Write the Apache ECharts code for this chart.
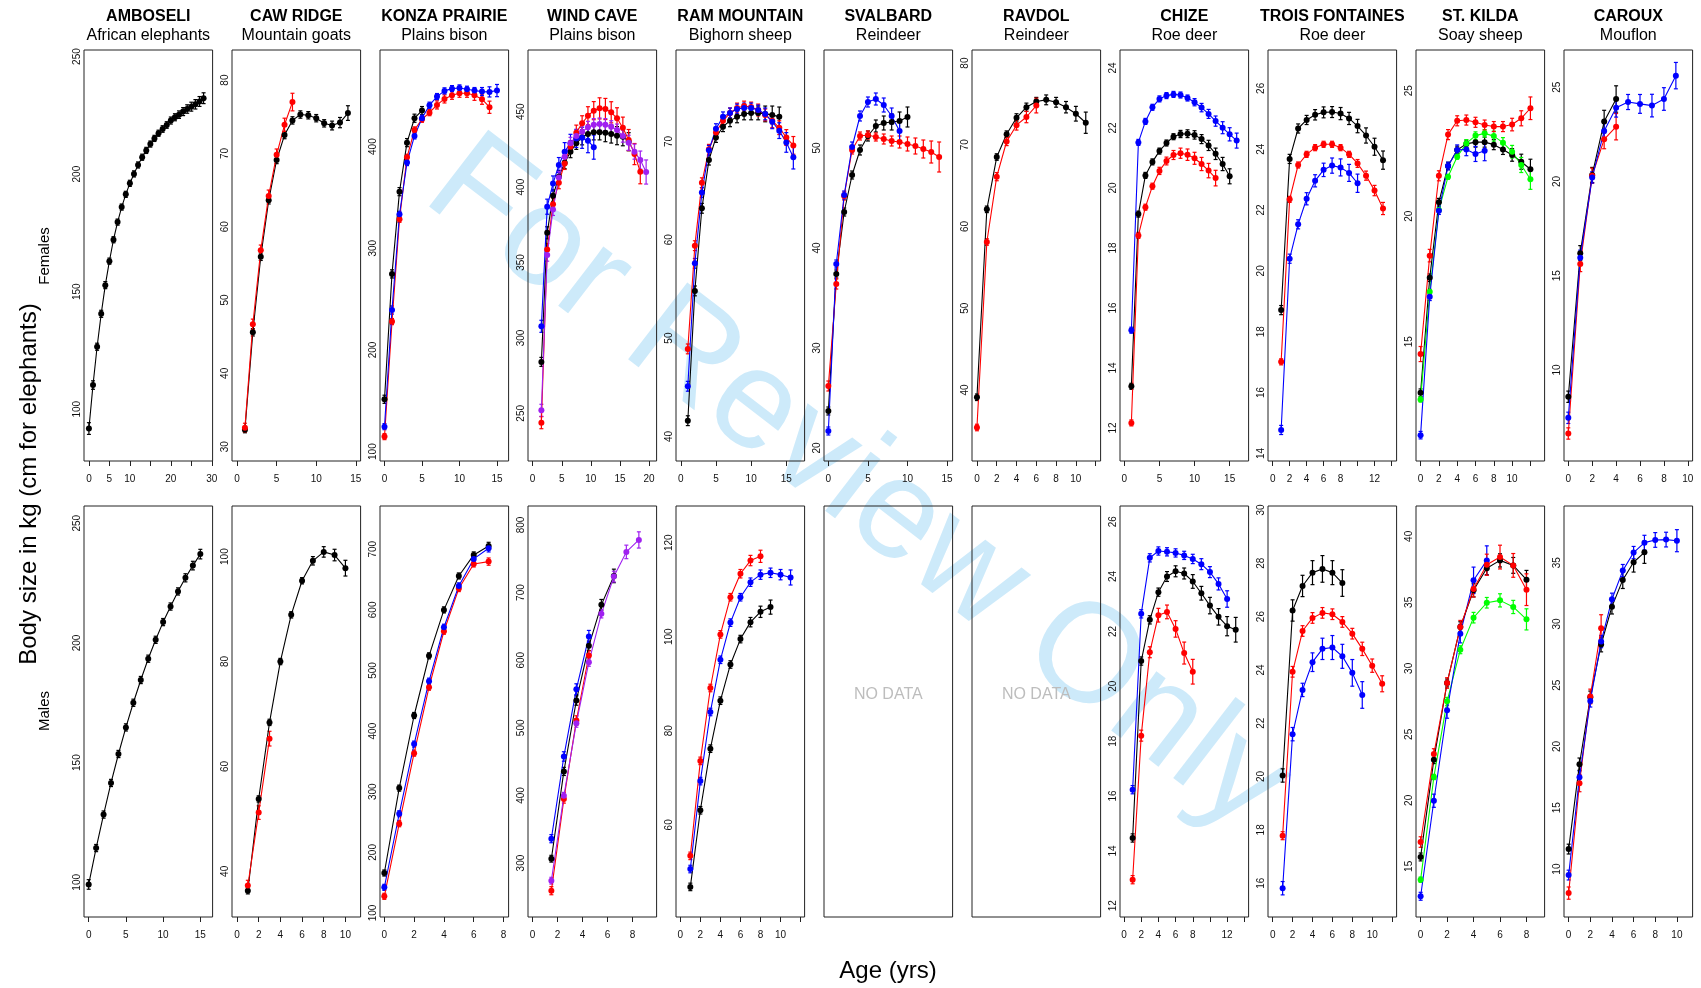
<!DOCTYPE html>
<html>
<head>
<meta charset="utf-8">
<script src="https://cdn.jsdelivr.net/npm/echarts@6/dist/echarts.min.js"></script>
<style>
html,body{margin:0;padding:0;background:#fff}
#main{width:1701px;height:988px}
</style>
</head>
<body>
<div id="main"></div>
<script>
// ---- ages / body size, females (top row) ----
var ambF_age = [0,1,2,3,4,5,6,7,8,9,10,11,12,13,14,15,16,17,18,19,20,21,22,23,24,25,26,27,28];
var ambF_black = [91.8,110.3,126.6,140.6,152.8,163.0,172.1,179.6,186.0,191.4,196.1,200.1,203.9,207.2,210.1,212.8,215.2,217.4,219.2,220.9,222.8,224.2,225.3,226.6,227.7,228.7,229.7,230.9,232.3];
var ambF_black_se = [2.5,1.8,1.5,1.5,1.5,1.3,1.3,1.3,1.3,1.3,1.3,1.3,1.3,1.3,1.3,1.3,1.3,1.3,1.4,1.4,1.5,1.5,1.6,1.7,1.8,1.9,2.0,2.1,2.3];

var cawF_age = [1,2,3,4,5,6,7,8,9,10,11,12,13,14];
var cawF_black = [32.3,45.6,55.9,63.6,69.1,72.5,74.5,75.3,75.2,74.8,74.1,73.8,74.2,75.5];
var cawF_black_se = [0.4,0.5,0.5,0.5,0.5,0.5,0.5,0.5,0.5,0.5,0.5,0.6,0.7,1.0];
var cawF_red = [32.6,46.7,56.8,64.2,69.8,73.9,77.0];
var cawF_red_se = [0.6,0.7,0.7,0.8,0.8,0.9,1.2];

var konF_age = [0,1,2,3,4,5,6,7,8,9,10,11,12,13,14,15];
var konF_black = [151.5,274.8,355.7,403.9,427.9,435.4];
var konF_black_se = [4,4,4,4,4,4];
var konF_red = [114.8,227.9,328.5,389.5,416.4,426.9,433.4,441.0,446.9,450.5,452.5,452.5,450.5,446.6,438.7];
var konF_red_se = [3,3,3,3,3,3,3,4,4,4,4,4,5,5,6];
var konF_blue = [124.6,239.3,333.4,384.3,410.5,427.9,440.7,449.2,454.8,457.0,457.7,456.4,455.1,454.1,453.8,455.1];
var konF_blue_se = [3,4,3,3,3,3,3,3,3,3,3,3,3,4,5,6];

var wcF_age = [1.5,2.5,3.5,4.5,5.5,6.5,7.5,8.5,9.5,10.5,11.5,12.5,13.5,14.5,15.5,16.5,17.5,18.5,19.5];
var wcF_black = [284.1,369.7,394.2,406.9,416.2,423.5,429.0,433.0,435.2,436.3,436.3,436.1,435.2,434.1,433.4,430.1];
var wcF_black_se = [3,4,4,4,4,4,4,5,5,5,5,6,6,6,6,6];
var wcF_blue = [307.7,387.0,402.4,414.6,423.5,429.0,432.3,432.7,430.8,426.5];
var wcF_blue_se = [4,5,5,5,6,6,6,7,8,8];
var wcF_red = [243.8,358.6,388.7,402.9,415.7,426.8,436.1,442.3,447.3,450.7,452.2,451.8,449.6,445.6,439.4,431.2,421.9,410.2];
var wcF_red_se = [4,4,4,4,4,4,5,5,6,6,7,7,7,7,7,7,7,8];
var wcF_purple = [252.0,354.9,385.2,406.4,420.1,429.0,433.8,436.7,439.6,441.4,441.8,441.4,440.0,437.8,433.8,429.4,423.5,417.9,410.0];
var wcF_purple_se = [4,4,4,4,4,4,4,4,4,4,4,4,4,4,4,5,5,6,8];

var ramF_age = [1,2,3,4,5,6,7,8,9,10,11,12,13,14,15,16];
var ramF_black = [41.6,54.8,63.2,68.1,70.4,71.5,72.1,72.5,72.8,72.9,72.9,72.8,72.7,72.5];
var ramF_black_se = [0.5,0.5,0.5,0.5,0.5,0.5,0.6,0.6,0.6,0.7,0.7,0.8,0.9,1.0];
var ramF_red = [48.9,59.4,65.8,69.2,70.9,72.1,72.9,73.4,73.6,73.5,73.2,72.7,72.1,71.4,70.4,69.6];
var ramF_red_se = [0.5,0.5,0.5,0.5,0.5,0.5,0.5,0.5,0.5,0.5,0.6,0.6,0.7,0.7,0.8,0.9];
var ramF_blue = [45.1,57.6,64.8,69.1,71.3,72.5,72.9,73.3,73.4,73.4,73.2,72.8,72.0,71.1,69.9,68.4];
var ramF_blue_se = [0.5,0.5,0.5,0.5,0.5,0.5,0.5,0.5,0.5,0.5,0.5,0.6,0.7,0.8,1.0,1.2];

var svF_age = [0,1,2,3,4,5,6,7,8,9,10,11,12,13,14];
var svF_black = [23.7,37.4,43.6,47.3,49.8,51.2,52.2,52.5,52.6,52.7,53.1];
var svF_black_se = [0.4,0.4,0.4,0.4,0.5,0.5,0.6,0.7,0.8,0.9,1.0];
var svF_blue = [21.7,38.4,45.3,50.1,53.2,54.6,54.9,54.3,53.2,51.7];
var svF_blue_se = [0.4,0.4,0.4,0.5,0.5,0.5,0.6,0.7,0.8,1.0];
var svF_red = [26.2,36.4,45.2,49.8,51.2,51.3,51.1,50.9,50.7,50.6,50.4,50.2,49.9,49.6,49.1];
var svF_red_se = [0.5,0.5,0.4,0.4,0.4,0.4,0.4,0.5,0.5,0.6,0.7,0.8,0.9,1.1,1.5];

var rvF_age = [0,1,2,3,4,5,6,7,8,9,10,11];
var rvF_black = [39.1,62.1,68.5,71.3,73.3,74.6,75.3,75.5,75.2,74.6,73.8,72.7];
var rvF_black_se = [0.4,0.4,0.4,0.4,0.5,0.5,0.5,0.6,0.6,0.7,0.9,1.3];
var rvF_red = [35.4,58.1,66.1,70.4,72.4,73.4,74.8];
var rvF_red_se = [0.4,0.4,0.5,0.5,0.6,0.7,0.9];

var chF_age = [1,2,3,4,5,6,7,8,9,10,11,12,13,14,15,16];
var chF_blue = [15.26,21.52,22.22,22.69,22.97,23.08,23.12,23.10,23.00,22.86,22.68,22.47,22.23,22.01,21.79,21.58];
var chF_blue_se = [0.1,0.1,0.1,0.1,0.1,0.1,0.1,0.1,0.1,0.12,0.14,0.15,0.17,0.2,0.22,0.25];
var chF_black = [13.39,19.13,20.42,20.87,21.23,21.50,21.71,21.80,21.81,21.77,21.63,21.42,21.14,20.80,20.39];
var chF_black_se = [0.1,0.1,0.1,0.1,0.1,0.1,0.1,0.12,0.13,0.14,0.15,0.17,0.19,0.22,0.25];
var chF_red = [12.17,18.42,19.36,20.06,20.57,20.90,21.10,21.16,21.11,20.99,20.80,20.58,20.33];
var chF_red_se = [0.1,0.1,0.1,0.1,0.12,0.13,0.15,0.17,0.19,0.2,0.22,0.24,0.26];

var tfF_age = [1,2,3,4,5,6,7,8,9,10,11,12,13];
var tfF_black = [18.71,23.68,24.68,24.96,25.13,25.21,25.22,25.17,25.01,24.76,24.45,24.08,23.64];
var tfF_black_se = [0.15,0.15,0.15,0.15,0.17,0.18,0.18,0.2,0.2,0.22,0.25,0.28,0.3];
var tfF_red = [17.01,22.35,23.48,23.83,24.05,24.16,24.16,24.05,23.83,23.53,23.13,22.64,22.05];
var tfF_red_se = [0.1,0.1,0.1,0.1,0.1,0.1,0.1,0.1,0.1,0.13,0.15,0.17,0.2];
var tfF_blue = [14.77,20.40,21.53,22.37,22.96,23.32,23.46,23.40,23.22,22.88];
var tfF_blue_se = [0.15,0.15,0.15,0.2,0.2,0.22,0.25,0.28,0.28,0.3];

var skF_age = [0,1,2,3,4,5,6,7,8,9,10,11,12];
var skF_red = [14.51,18.43,21.61,23.25,23.80,23.83,23.74,23.63,23.57,23.57,23.65,23.90,24.30];
var skF_red_se = [0.3,0.25,0.2,0.2,0.2,0.2,0.2,0.2,0.2,0.2,0.25,0.3,0.45];
var skF_black = [12.97,17.55,20.56,22.00,22.64,22.88,22.95,22.95,22.85,22.66,22.44,22.17,21.87];
var skF_black_se = [0.15,0.15,0.15,0.15,0.15,0.15,0.2,0.2,0.2,0.2,0.25,0.3,0.4];
var skF_blue = [11.28,16.79,20.22,22.00,22.64,22.66,22.48,22.61];
var skF_blue_se = [0.15,0.15,0.15,0.15,0.2,0.25,0.3,0.4];
var skF_green = [12.70,16.99,20.25,21.57,22.37,22.90,23.21,23.30,23.19,22.93,22.57,22.04,21.47];
var skF_green_se = [0.1,0.1,0.1,0.1,0.1,0.15,0.15,0.15,0.2,0.2,0.25,0.3,0.4];

var crF_age = [0,1,2,3,4,5,6,7,8,9];
var crF_black = [8.58,16.2,20.35,23.18,24.38];
var crF_black_se = [0.3,0.4,0.4,0.6,0.7];
var crF_blue = [7.46,15.96,20.22,22.68,23.92,24.22,24.12,24.03,24.38,25.62];
var crF_blue_se = [0.3,0.4,0.3,0.4,0.5,0.4,0.5,0.6,0.6,0.7];
var crF_red = [6.63,15.62,20.31,22.24,22.91];
var crF_red_se = [0.3,0.4,0.4,0.5,0.7];

// ---- males (bottom row) ----
var ambM_age = [0,1,2,3,4,5,6,7,8,9,10,11,12,13,14,15];
var ambM_black = [99.1,114.3,128.3,141.5,153.6,164.7,175.0,184.5,193.4,201.3,208.7,215.2,221.5,227.2,232.3,237.1];
var ambM_black_se = [2,1.5,1.5,1.5,1.5,1.5,1.5,1.5,1.5,1.5,1.5,1.5,1.5,1.7,1.8,2];

var cawM_age = [1,2,3,4,5,6,7,8,9,10];
var cawM_black = [36.3,53.8,68.4,80.0,88.9,95.4,99.2,100.9,100.3,97.8];
var cawM_black_se = [0.6,0.6,0.6,0.6,0.6,0.6,0.8,1.0,1.1,1.5];
var cawM_red = [37.3,51.2,65.3];
var cawM_red_se = [1.0,1.3,1.4];

var konM_age = [0,1,2,3,4,5,6,7];
var konM_black = [166.0,306.0,425.8,524.2,600.0,656.0,690.7,705.5];
var konM_black_se = [5,5,5,5,5,5,5,6];
var konM_red = [127.5,247.3,363.7,472.5,564.8,635.2,675.8,679.7];
var konM_red_se = [5,5,5,5,5,5,5,6];
var konM_blue = [142.3,263.7,378.6,482.4,571.4,639.6,684.1,701.6];
var konM_blue_se = [5,5,5,5,5,5,5,6];

var wcM_age = [1.5,2.5,3.5,4.5,5.5,6.5,7.5,8.5];
var wcM_black = [306.4,435.5,540.4,621.2,681.8,724.6];
var wcM_black_se = [5,6,7,7,8,10];
var wcM_blue = [336.0,457.6,557.1,635.0];
var wcM_blue_se = [6,7,8,9];
var wcM_red = [259.1,394.6,510.8,606.9];
var wcM_red_se = [6,6,7,7];
var wcM_purple = [273.9,399.5,506.9,597.0,668.5,723.6,760.1,777.8];
var wcM_purple_se = [5,5,6,6,6,8,10,12];

var ramM_age = [1,2,3,4,5,6,7,8,9,10,11];
var ramM_black = [46.8,63.1,76.2,86.4,94.1,99.5,103.1,105.3,106.3];
var ramM_black_se = [0.8,0.8,0.8,0.8,0.8,0.8,1.0,1.2,1.5];
var ramM_red = [53.4,73.6,89.1,100.5,108.4,113.4,116.2,117.1];
var ramM_red_se = [0.8,0.8,0.8,0.8,0.8,0.9,1.1,1.3];
var ramM_blue = [50.6,69.3,84.0,95.1,103.0,108.4,111.6,113.2,113.6,113.2,112.6];
var ramM_blue_se = [0.8,0.8,0.8,0.8,0.8,0.8,0.9,1.0,1.0,1.1,1.6];

var chM_age = [1,2,3,4,5,6,7,8,9,10,11,12,13];
var chM_blue = [16.23,22.64,24.68,24.93,24.90,24.86,24.77,24.64,24.45,24.16,23.73,23.18];
var chM_blue_se = [0.15,0.15,0.15,0.15,0.15,0.15,0.15,0.17,0.2,0.2,0.22,0.3];
var chM_black = [14.47,20.92,22.42,23.43,24.00,24.19,24.11,23.82,23.39,22.94,22.53,22.19,22.06];
var chM_black_se = [0.15,0.15,0.15,0.15,0.18,0.2,0.2,0.25,0.25,0.3,0.3,0.35,0.45];
var chM_red = [12.95,18.20,21.24,22.59,22.71,22.09,21.21,20.53];
var chM_red_se = [0.15,0.2,0.2,0.25,0.25,0.3,0.4,0.45];

var tfM_age = [1,2,3,4,5,6,7,8,9,10,11];
var tfM_black = [20.04,26.23,27.15,27.65,27.79,27.65,27.26];
var tfM_black_se = [0.25,0.4,0.4,0.45,0.5,0.45,0.5];
var tfM_red = [17.78,23.93,25.46,25.95,26.14,26.09,25.80,25.36,24.79,24.16,23.48];
var tfM_red_se = [0.15,0.2,0.2,0.2,0.2,0.2,0.2,0.2,0.25,0.25,0.3];
var tfM_blue = [15.81,21.59,23.25,24.29,24.79,24.84,24.51,23.89,23.06];
var tfM_blue_se = [0.25,0.25,0.25,0.35,0.4,0.45,0.45,0.5,0.5];

var skM_age = [0,1,2,3,4,5,6,7,8];
var skM_red = [16.84,23.51,28.89,33.13,36.01,37.85,38.43,37.80,35.96];
var skM_red_se = [0.4,0.4,0.4,0.5,0.6,0.8,0.9,0.9,1.2];
var skM_black = [15.71,23.08,28.89,33.13,35.91,37.58,38.18,37.80,36.72];
var skM_black_se = [0.3,0.3,0.3,0.4,0.5,0.5,0.5,0.6,0.7];
var skM_blue = [12.73,19.97,26.82,32.63,36.67,38.18];
var skM_blue_se = [0.3,0.5,0.6,0.7,1.0,1.1];
var skM_green = [13.99,21.77,27.50,31.41,33.84,34.97,35.15,34.65,33.71];
var skM_green_se = [0.2,0.2,0.3,0.3,0.4,0.4,0.5,0.5,0.8];

var crM_age = [0,1,2,3,4,5,6,7,8,9,10];
var crM_black = [11.63,18.56,24.02,28.32,31.41,33.59,35.03,35.84];
var crM_black_se = [0.4,0.5,0.5,0.6,0.6,0.7,0.8,0.9];
var crM_blue = [9.51,17.50,23.72,28.56,32.01,34.35,35.82,36.63,36.85,36.88,36.79];
var crM_blue_se = [0.4,0.5,0.5,0.5,0.5,0.5,0.5,0.6,0.6,0.6,0.9];
var crM_red = [8.04,17.01,24.08,29.65];
var crM_red_se = [0.5,0.7,0.6,1.1];

// ---- tick values ----
var tk_0_30_5 = [0,5,10,15,20,25,30];
var lb_amb = [0,5,10,20,30];
var tk_0_15_5 = [0,5,10,15];
var tk_0_20_5 = [0,5,10,15,20];
var tk_0_8_2 = [0,2,4,6,8];
var tk_0_10_2 = [0,2,4,6,8,10];
var tk_0_12_2 = [0,2,4,6,8,10,12];
var tk_0_14_2 = [0,2,4,6,8,10,12,14];
var lb_14 = [0,2,4,6,8,12];

var yt_ambF = [100,150,200,250];
var yt_cawF = [30,40,50,60,70,80];
var yt_konF = [100,200,300,400];
var yt_wcF = [250,300,350,400,450];
var yt_ramF = [40,50,60,70];
var yt_svF = [20,30,40,50];
var yt_rvF = [40,50,60,70,80];
var yt_chF = [12,14,16,18,20,22,24];
var yt_tfF = [14,16,18,20,22,24,26];
var yt_skF = [15,20,25];
var yt_crF = [10,15,20,25];
var yt_ambM = [100,150,200,250];
var yt_cawM = [40,60,80,100];
var yt_konM = [100,200,300,400,500,600,700];
var yt_wcM = [300,400,500,600,700,800];
var yt_ramM = [60,80,100,120];
var yt_chM = [12,14,16,18,20,22,24,26];
var yt_tfM = [16,18,20,22,24,26,28,30];
var yt_skM = [15,20,25,30,35,40];
var yt_crM = [10,15,20,25,30,35];

var sites = ['AMBOSELI','CAW RIDGE','KONZA PRAIRIE','WIND CAVE','RAM MOUNTAIN','SVALBARD','RAVDOL','CHIZE','TROIS FONTAINES','ST. KILDA','CAROUX'];
var species = ['African elephants','Mountain goats','Plains bison','Plains bison','Bighorn sheep','Reindeer','Reindeer','Roe deer','Roe deer','Soay sheep','Mouflon'];

var BLACK = '#000000', RED = '#ff0000', BLUE = '#0000ff', GREEN = '#00ff00', PURPLE = '#a020f0';

var panels = [
  {row:0, col:0, x:[-1.2,30.2], y:[78,252.8], xt:tk_0_30_5, xl:lb_amb, yt:yt_ambF, age:ambF_age,
   s:[[BLACK, ambF_black, ambF_black_se]]},
  {row:0, col:1, x:[-0.63,15.6], y:[28.05,84.1], xt:tk_0_15_5, xl:tk_0_15_5, yt:yt_cawF, age:cawF_age,
   s:[[BLACK, cawF_black, cawF_black_se],[RED, cawF_red, cawF_red_se]]},
  {row:0, col:2, x:[-0.6,16.55], y:[90.8,495], xt:tk_0_15_5, xl:tk_0_15_5, yt:yt_konF, age:konF_age,
   s:[[BLACK, konF_black, konF_black_se],[RED, konF_red, konF_red_se],[BLUE, konF_blue, konF_blue_se]]},
  {row:0, col:3, x:[-0.8,21.3], y:[218.4,490.9], xt:tk_0_20_5, xl:tk_0_20_5, yt:yt_wcF, age:wcF_age,
   s:[[BLACK, wcF_black, wcF_black_se],[BLUE, wcF_blue, wcF_blue_se],[RED, wcF_red, wcF_red_se],[PURPLE, wcF_purple, wcF_purple_se]]},
  {row:0, col:4, x:[-0.68,17.6], y:[37.5,79.3], xt:tk_0_15_5, xl:tk_0_15_5, yt:yt_ramF, age:ramF_age,
   s:[[BLACK, ramF_black, ramF_black_se],[RED, ramF_red, ramF_red_se],[BLUE, ramF_blue, ramF_blue_se]]},
  {row:0, col:5, x:[-0.55,15.7], y:[18.7,59.8], xt:tk_0_15_5, xl:tk_0_15_5, yt:yt_svF, age:svF_age,
   s:[[BLACK, svF_black, svF_black_se],[RED, svF_red, svF_red_se],[BLUE, svF_blue, svF_blue_se]]},
  {row:0, col:6, x:[-0.5,12.5], y:[31.3,81.6], xt:tk_0_12_2, xl:tk_0_10_2, yt:yt_rvF, age:rvF_age,
   s:[[BLACK, rvF_black, rvF_black_se],[RED, rvF_red, rvF_red_se]]},
  {row:0, col:7, x:[-0.62,17.7], y:[10.9,24.6], xt:tk_0_15_5, xl:tk_0_15_5, yt:yt_chF, age:chF_age,
   s:[[BLACK, chF_black, chF_black_se],[RED, chF_red, chF_red_se],[BLUE, chF_blue, chF_blue_se]]},
  {row:0, col:8, x:[-0.55,14.6], y:[13.75,27.26], xt:tk_0_14_2, xl:lb_14, yt:yt_tfF, age:tfF_age,
   s:[[BLACK, tfF_black, tfF_black_se],[RED, tfF_red, tfF_red_se],[BLUE, tfF_blue, tfF_blue_se]]},
  {row:0, col:9, x:[-0.5,13.55], y:[10.25,26.62], xt:tk_0_12_2, xl:tk_0_10_2, yt:yt_skF, age:skF_age,
   s:[[BLACK, skF_black, skF_black_se],[GREEN, skF_green, skF_green_se],[BLUE, skF_blue, skF_blue_se],[RED, skF_red, skF_red_se]]},
  {row:0, col:10, x:[-0.36,10.4], y:[5.17,26.98], xt:tk_0_10_2, xl:tk_0_10_2, yt:yt_crF, age:crF_age,
   s:[[BLACK, crF_black, crF_black_se],[RED, crF_red, crF_red_se],[BLUE, crF_blue, crF_blue_se]]},

  {row:1, col:0, x:[-0.63,16.65], y:[85.5,257.2], xt:tk_0_15_5, xl:tk_0_15_5, yt:yt_ambM, age:ambM_age,
   s:[[BLACK, ambM_black, ambM_black_se]]},
  {row:1, col:1, x:[-0.46,11.4], y:[31.3,109.65], xt:tk_0_10_2, xl:tk_0_10_2, yt:yt_cawM, age:cawM_age,
   s:[[BLACK, cawM_black, cawM_black_se],[RED, cawM_red, cawM_red_se]]},
  {row:1, col:2, x:[-0.29,8.34], y:[93.4,771.4], xt:tk_0_8_2, xl:tk_0_8_2, yt:yt_konM, age:konM_age,
   s:[[BLACK, konM_black, konM_black_se],[RED, konM_red, konM_red_se],[BLUE, konM_blue, konM_blue_se]]},
  {row:1, col:3, x:[-0.37,9.92], y:[220.2,828], xt:tk_0_8_2, xl:tk_0_8_2, yt:yt_wcM, age:wcM_age,
   s:[[BLACK, wcM_black, wcM_black_se],[BLUE, wcM_blue, wcM_blue_se],[RED, wcM_red, wcM_red_se],[PURPLE, wcM_purple, wcM_purple_se]]},
  {row:1, col:4, x:[-0.43,12.4], y:[40.4,127.8], xt:tk_0_12_2, xl:tk_0_10_2, yt:yt_ramM, age:ramM_age,
   s:[[BLACK, ramM_black, ramM_black_se],[RED, ramM_red, ramM_red_se],[BLUE, ramM_blue, ramM_blue_se]]},
  {row:1, col:5, empty:true},
  {row:1, col:6, empty:true},
  {row:1, col:7, x:[-0.47,14.5], y:[11.59,26.57], xt:tk_0_14_2, xl:lb_14, yt:yt_chM, age:chM_age,
   s:[[BLACK, chM_black, chM_black_se],[RED, chM_red, chM_red_se],[BLUE, chM_blue, chM_blue_se]]},
  {row:1, col:8, x:[-0.47,12.45], y:[14.73,30.15], xt:tk_0_12_2, xl:tk_0_10_2, yt:yt_tfM, age:tfM_age,
   s:[[BLACK, tfM_black, tfM_black_se],[RED, tfM_red, tfM_red_se],[BLUE, tfM_blue, tfM_blue_se]]},
  {row:1, col:9, x:[-0.35,9.37], y:[11.16,42.3], xt:tk_0_8_2, xl:tk_0_8_2, yt:yt_skM, age:skM_age,
   s:[[GREEN, skM_green, skM_green_se],[BLUE, skM_blue, skM_blue_se],[BLACK, skM_black, skM_black_se],[RED, skM_red, skM_red_se]]},
  {row:1, col:10, x:[-0.43,11.45], y:[6.09,39.62], xt:tk_0_10_2, xl:tk_0_10_2, yt:yt_crM, age:crM_age,
   s:[[BLACK, crM_black, crM_black_se],[RED, crM_red, crM_red_se],[BLUE, crM_blue, crM_blue_se]]}
];

var FONT = '"Liberation Sans", Arial, sans-serif';
var PW = 128.6, PH = 411, TOPS = [50, 506];
function panelLeft(col) { return Math.round(84 + col * 147.97); }

// vertical error bar with small caps
function renderErr(params, api) {
  var x = api.value(0), y = api.value(1), e = api.value(2);
  var lo = api.coord([x, y - e]), hi = api.coord([x, y + e]);
  var st = {stroke: api.visual('color'), lineWidth: 1.2};
  return {type: 'group', children: [
    {type: 'line', shape: {x1: lo[0], y1: lo[1], x2: hi[0], y2: hi[1]}, style: st},
    {type: 'line', shape: {x1: lo[0] - 2, y1: lo[1], x2: lo[0] + 2, y2: lo[1]}, style: st},
    {type: 'line', shape: {x1: hi[0] - 2, y1: hi[1], x2: hi[0] + 2, y2: hi[1]}, style: st}
  ]};
}

var grids = [], xAxes = [], yAxes = [], series = [];
var graphics = [{
  type: 'text', x: 857, y: 486, rotation: -0.655, z: -10,
  style: {text: 'For Review Only', fontSize: 141, fontFamily: FONT, fill: '#cdeafa', align: 'center', verticalAlign: 'middle'}
}];

panels.forEach(function (p, gi) {
  var left = panelLeft(p.col), top = TOPS[p.row];
  grids.push({left: left, top: top, width: PW, height: PH, show: true, borderColor: '#222', borderWidth: 1,
              backgroundColor: 'rgba(0,0,0,0)', outerBoundsMode: 'none'});
  if (p.empty) {
    xAxes.push({gridIndex: gi, type: 'value', min: 0, max: 1, show: false});
    yAxes.push({gridIndex: gi, type: 'value', min: 0, max: 1, show: false});
    graphics.push({type: 'text', x: left + PW / 2, y: 695,
      style: {text: 'NO DATA', fontSize: 16, fontFamily: FONT, fill: '#bdbdbd', align: 'center', verticalAlign: 'middle'}});
    return;
  }
  xAxes.push({
    gridIndex: gi, type: 'value', min: p.x[0], max: p.x[1],
    axisLine: {show: false}, splitLine: {show: false},
    axisTick: {show: true, length: 5, lineStyle: {color: '#222'}, customValues: p.xt},
    axisLabel: {customValues: p.xl, fontSize: 10, color: '#111', margin: 13, fontFamily: FONT}
  });
  yAxes.push({
    gridIndex: gi, type: 'value', min: p.y[0], max: p.y[1],
    axisLine: {show: false}, splitLine: {show: false}, axisTick: {show: false},
    axisLabel: {customValues: p.yt, rotate: 90, fontSize: 10, color: '#111', margin: 2, fontFamily: FONT}
  });
  p.s.forEach(function (sr) {
    var color = sr[0], vals = sr[1], se = sr[2];
    var pts = [], bars = [];
    for (var k = 0; k < vals.length; k++) {
      pts.push([p.age[k], vals[k]]);
      bars.push([p.age[k], vals[k], se[k]]);
    }
    series.push({type: 'custom', xAxisIndex: gi, yAxisIndex: gi, renderItem: renderErr,
                 itemStyle: {color: color}, data: bars, z: 2, silent: true});
    series.push({type: 'line', xAxisIndex: gi, yAxisIndex: gi, data: pts, symbol: 'circle', symbolSize: 6,
                 showSymbol: true, itemStyle: {color: color}, lineStyle: {color: color, width: 1.1},
                 z: 3, silent: true});
  });
});

// panel titles
for (var c = 0; c < 11; c++) {
  var cx = panelLeft(c) + PW / 2;
  graphics.push({type: 'text', x: cx, y: 16.5,
    style: {text: sites[c], fontSize: 16, fontWeight: 'bold', fontFamily: FONT, fill: '#000', align: 'center', verticalAlign: 'middle'}});
  graphics.push({type: 'text', x: cx, y: 35.5,
    style: {text: species[c], fontSize: 16, fontFamily: FONT, fill: '#000', align: 'center', verticalAlign: 'middle'}});
}
graphics.push({type: 'text', x: 29, y: 484, rotation: Math.PI / 2,
  style: {text: 'Body size in kg (cm for elephants)', fontSize: 24, fontFamily: FONT, fill: '#000', align: 'center', verticalAlign: 'middle'}});
graphics.push({type: 'text', x: 45, y: 256, rotation: Math.PI / 2,
  style: {text: 'Females', fontSize: 15, fontFamily: FONT, fill: '#000', align: 'center', verticalAlign: 'middle'}});
graphics.push({type: 'text', x: 45, y: 711, rotation: Math.PI / 2,
  style: {text: 'Males', fontSize: 15, fontFamily: FONT, fill: '#000', align: 'center', verticalAlign: 'middle'}});
graphics.push({type: 'text', x: 888, y: 971,
  style: {text: 'Age (yrs)', fontSize: 24, fontFamily: FONT, fill: '#000', align: 'center', verticalAlign: 'middle'}});

var chart = echarts.init(document.getElementById('main'), null, {renderer: 'canvas'});
chart.setOption({
  animation: false,
  backgroundColor: '#ffffff',
  textStyle: {fontFamily: FONT},
  grid: grids,
  xAxis: xAxes,
  yAxis: yAxes,
  series: series,
  graphic: {elements: graphics}
});
</script>
</body>
</html>
